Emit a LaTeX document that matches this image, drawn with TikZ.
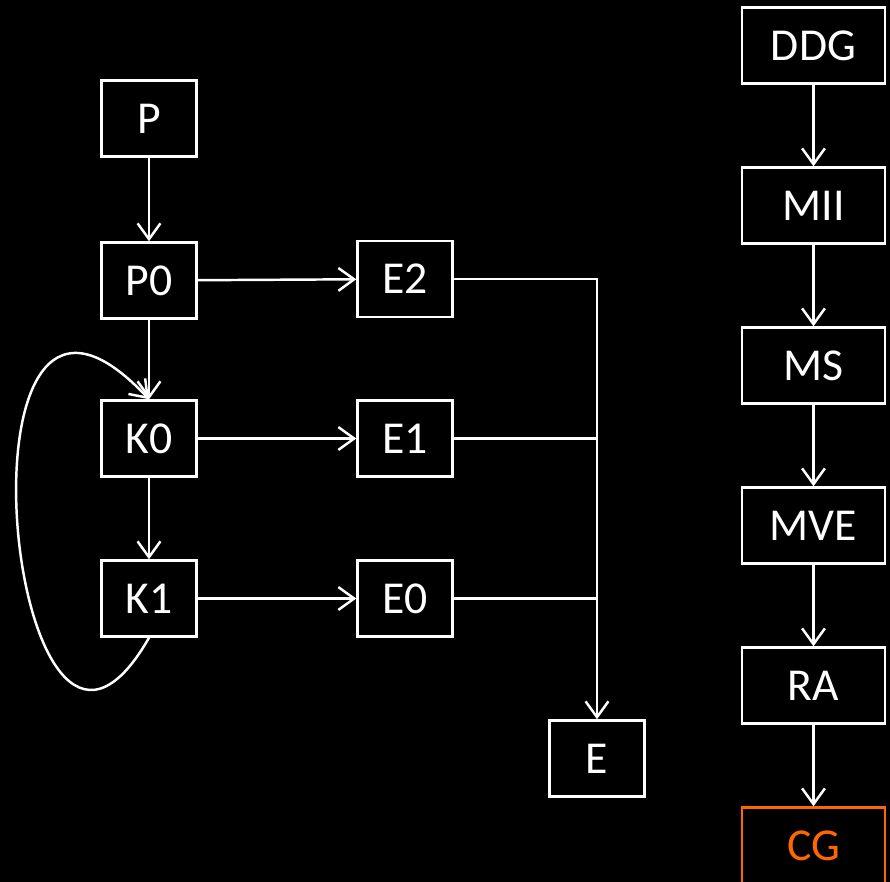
\documentclass[tikz,border=0pt]{standalone}
\usepackage{fontspec}
\setmainfont{Carlito}
\usepackage{tikz}
\usetikzlibrary{positioning, arrows.meta}
\usepackage{xcolor}
\definecolor{cgorange}{RGB}{255,102,0}

\begin{document}
\begin{tikzpicture}[
        line width=1.4pt,
        box/.style={draw=white, text=white, rectangle, minimum width=1.9cm, minimum height=1.52cm, font=\fontsize{26}{30}\selectfont},
        wbox/.style={box, minimum width=2.86cm},
        arr/.style={draw=white, -{Straight Barb[length=9pt, width=13pt]}}
    ]
        % Background
        \path[use as bounding box, fill=black] (0,0) rectangle (17.8,-17.64);

        % Left column
        \node[box] (P)  at (2.98,-2.37)  {P};
        \node[box] (P0) at (2.98,-5.61)  {P0};
        \node[box] (K0) at (2.98,-8.77)  {K0};
        \node[box] (K1) at (2.98,-11.97) {K1};

        % Middle column
        \node[box] (E2) at (8.10,-5.58)  {E2};
        \node[box] (E1) at (8.10,-8.77)  {E1};
        \node[box] (E0) at (8.10,-11.97) {E0};
        \node[box] (E)  at (11.94,-15.17) {E};

        % Right column
        \node[wbox] (DDG) at (16.27,-0.91)  {DDG};
        \node[wbox] (MII) at (16.27,-4.11)  {MII};
        \node[wbox] (MS)  at (16.27,-7.31)  {MS};
        \node[wbox] (MVE) at (16.27,-10.51) {MVE};
        \node[wbox] (RA)  at (16.27,-13.71) {RA};
        \node[wbox, draw=cgorange, text=cgorange] (CG) at (16.27,-16.91) {CG};

        % Left chain
        \draw[arr] (P) -- (P0);
        \draw[arr] (P0) -- (K0);
        \draw[arr] (K0) -- (K1);
        \draw[arr] (K1.south) .. controls +(-2.8,-4.9) and +(-4.2,4.5) .. (K0.north);

        % To the E boxes
        \draw[arr] (P0) -- (E2);
        \draw[arr] (K0) -- (E1);
        \draw[arr] (K1) -- (E0);

        % Bus down to E
        \draw[arr] (E2.east) -| (E.north);
        \draw[white] (E1.east) -- (E1.east -| E.north);
        \draw[white] (E0.east) -- (E0.east -| E.north);

        % Right chain
        \draw[arr] (DDG) -- (MII);
        \draw[arr] (MII) -- (MS);
        \draw[arr] (MS) -- (MVE);
        \draw[arr] (MVE) -- (RA);
        \draw[arr] (RA) -- (CG);
    \end{tikzpicture}
\end{document}
